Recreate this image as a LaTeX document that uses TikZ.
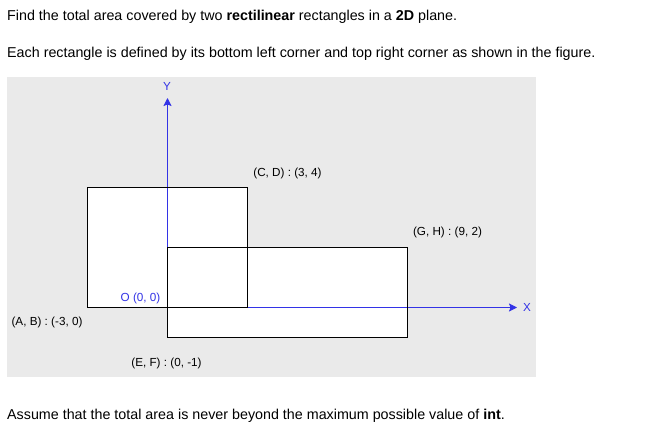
\documentclass[tikz,border=0pt]{standalone}
\usepackage{fontspec}
\setmainfont{Liberation Sans}
\usetikzlibrary{arrows.meta}

\definecolor{axisblue}{RGB}{51,51,230}
\definecolor{panelgray}{RGB}{234,234,234}

\tikzset{
  axis/.style={draw=axisblue, line width=1pt, -{Stealth[length=8pt, width=8pt, inset=1.5pt]}},
  rect-line/.style={draw=black, line width=1pt},
  coord-label/.style={font=\fontsize{11.7}{14}\selectfont, inner sep=0pt},
  axis-label/.style={coord-label, text=axisblue},
  text-line/.style={font=\fontsize{14.3}{17}\selectfont, anchor=west, inner sep=0pt},
}

\begin{document}
\begin{tikzpicture}[x=1pt, y=-1pt]
\useasboundingbox (0,0) rectangle (667,436);

\node[text-line] (title) at (7,17) {Find the total area covered by two \textbf{rectilinear} rectangles in a \textbf{2D} plane.};
\node[text-line] (intro) at (7,54) {Each rectangle is defined by its bottom left corner and top right corner as shown in the figure.};

\fill[panelgray] (7,77) rectangle (536,377);

% corners of the two rectangles
\coordinate (A-B) at (87.5,307.5);
\coordinate (C-D) at (247.5,187.5);
\coordinate (E-F) at (167.5,337.5);
\coordinate (G-H) at (407.5,247.5);
\fill[white] (A-B) rectangle (C-D);
\fill[white] (E-F) rectangle (G-H);

% axes
\coordinate (origin) at (167.5,307.5);
\coordinate (y-tip) at (167.5,98);
\coordinate (x-tip) at (517,307.5);
\draw[axis] (origin) -- (y-tip);
\draw[axis] (origin) -- (x-tip);

\draw[rect-line] (A-B) rectangle (C-D);
\draw[rect-line] (E-F) rectangle (G-H);

\node[axis-label] (y-label) at (167,86) {Y};
\node[axis-label] (x-label) at (527,307) {X};
\node[axis-label] (o-label) at (140.5,298) {O (0, 0)};

\node[coord-label] (cd-label) at (287.5,173) {(C, D) : (3, 4)};
\node[coord-label] (gh-label) at (447.5,232) {(G, H) : (9, 2)};
\node[coord-label] (ab-label) at (47,322) {(A, B) : (-3, 0)};
\node[coord-label] (ef-label) at (166.5,363) {(E, F) : (0, -1)};

\node[text-line] (outro) at (7,416) {Assume that the total area is never beyond the maximum possible value of \textbf{int}.};
\end{tikzpicture}
\end{document}
